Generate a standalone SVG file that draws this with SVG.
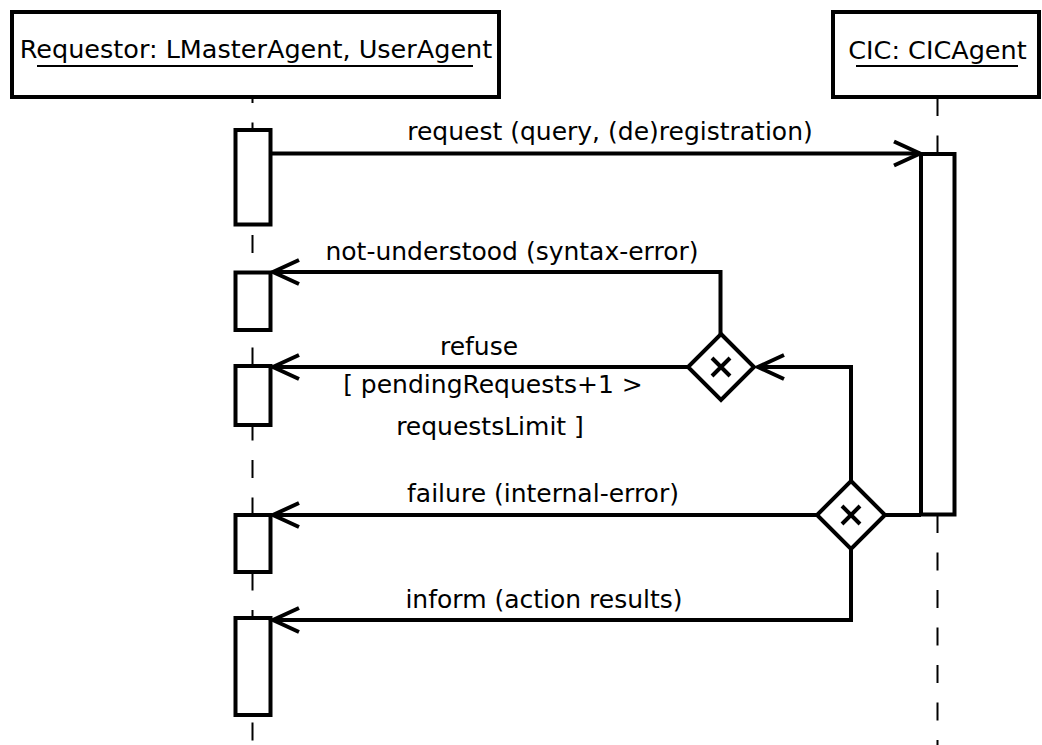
<svg xmlns="http://www.w3.org/2000/svg" width="1042" height="745" viewBox="0 0 1042 745">
  <style>
    .box { fill: #fff; stroke: #000; stroke-width: 4; }
    .life { fill: none; stroke: #000; stroke-width: 2; stroke-dasharray: 18 19.5; }
    .msg { fill: none; stroke: #000; stroke-width: 4; stroke-linejoin: miter; }
    .uline { stroke: #000; stroke-width: 2; }
    .mark { stroke: #000; stroke-width: 4; stroke-linecap: butt; }
    text { font-family: "DejaVu Sans", "Liberation Sans", sans-serif; font-size: 25px; fill: #000; text-anchor: middle; }
    .head { font-size: 25.5px; }
  </style>
  <defs>
    <marker id="open" markerUnits="userSpaceOnUse" markerWidth="34" markerHeight="30" refX="28" refY="15" orient="auto" overflow="visible">
      <path d="M2,3 L28,15 L2,27" fill="none" stroke="#000" stroke-width="4"/>
    </marker>
  </defs>

  <!-- lifelines -->
  <g id="lifelines">
    <line class="life" x1="252.5" y1="10" x2="252.5" y2="745"/>
    <line class="life" x1="937.5" y1="98" x2="937.5" y2="154"/>
    <line class="life" x1="937.5" y1="515" x2="937.5" y2="745"/>
  </g>

  <!-- participant: requestor -->
  <g id="requestor">
    <rect class="box" x="12" y="12" width="487" height="85"/>
    <text class="head" x="256" y="58">Requestor: LMasterAgent, UserAgent</text>
    <line class="uline" x1="37" y1="66" x2="473" y2="66"/>
  </g>

  <!-- participant: CIC -->
  <g id="cic">
    <rect class="box" x="833" y="12" width="206" height="85"/>
    <text class="head" x="937.5" y="59">CIC: CICAgent</text>
    <line class="uline" x1="856" y1="66" x2="1018" y2="66"/>
  </g>

  <!-- activations on the requestor lifeline -->
  <g id="req-act-1"><rect class="box" x="235.5" y="130" width="35" height="94.5"/></g>
  <g id="req-act-2"><rect class="box" x="235.5" y="272.5" width="35" height="57.5"/></g>
  <g id="req-act-3"><rect class="box" x="235.5" y="366" width="35" height="59"/></g>
  <g id="req-act-4"><rect class="box" x="235.5" y="515" width="35" height="57"/></g>
  <g id="req-act-5"><rect class="box" x="235.5" y="618" width="35" height="97"/></g>

  <!-- activation on the CIC lifeline -->
  <g id="cic-act"><rect class="box" x="921" y="154" width="33.5" height="360.5"/></g>

  <!-- messages -->
  <g id="connectors">
    <line class="msg" x1="270.5" y1="153.5" x2="920" y2="153.5" marker-end="url(#open)"/>
    <path class="msg" d="M720.5,334 V272 H273" marker-end="url(#open)"/>
    <line class="msg" x1="688" y1="367" x2="273" y2="367" marker-end="url(#open)"/>
    <path class="msg" d="M851,481 V367 H758" marker-end="url(#open)"/>
    <line class="msg" x1="817" y1="515" x2="273" y2="515" marker-end="url(#open)"/>
    <line class="msg" x1="885" y1="515" x2="921" y2="515"/>
    <path class="msg" d="M851,548 V620 H273" marker-end="url(#open)"/>
  </g>

  <!-- decision: not-understood / refuse -->
  <g id="choice-1">
    <path class="box" d="M721,334 L754,367 L721,400 L688,367 Z"/>
    <path class="mark" d="M712,358 L730,376 M730,358 L712,376"/>
  </g>

  <!-- decision: failure / inform / continue -->
  <g id="choice-2">
    <path class="box" d="M851,481 L885,515 L851,549 L817,515 Z"/>
    <path class="mark" d="M842,506 L860,524 M860,506 L842,524"/>
  </g>

  <!-- message labels -->
  <g id="labels">
    <text x="610" y="140">request (query, (de)registration)</text>
    <text x="512" y="260">not-understood (syntax-error)</text>
    <text x="479" y="355">refuse</text>
    <text x="493" y="393">[ pendingRequests+1 &gt;</text>
    <text x="490" y="435">requestsLimit ]</text>
    <text x="543" y="502">failure (internal-error)</text>
    <text x="544" y="608">inform (action results)</text>
  </g>
</svg>
